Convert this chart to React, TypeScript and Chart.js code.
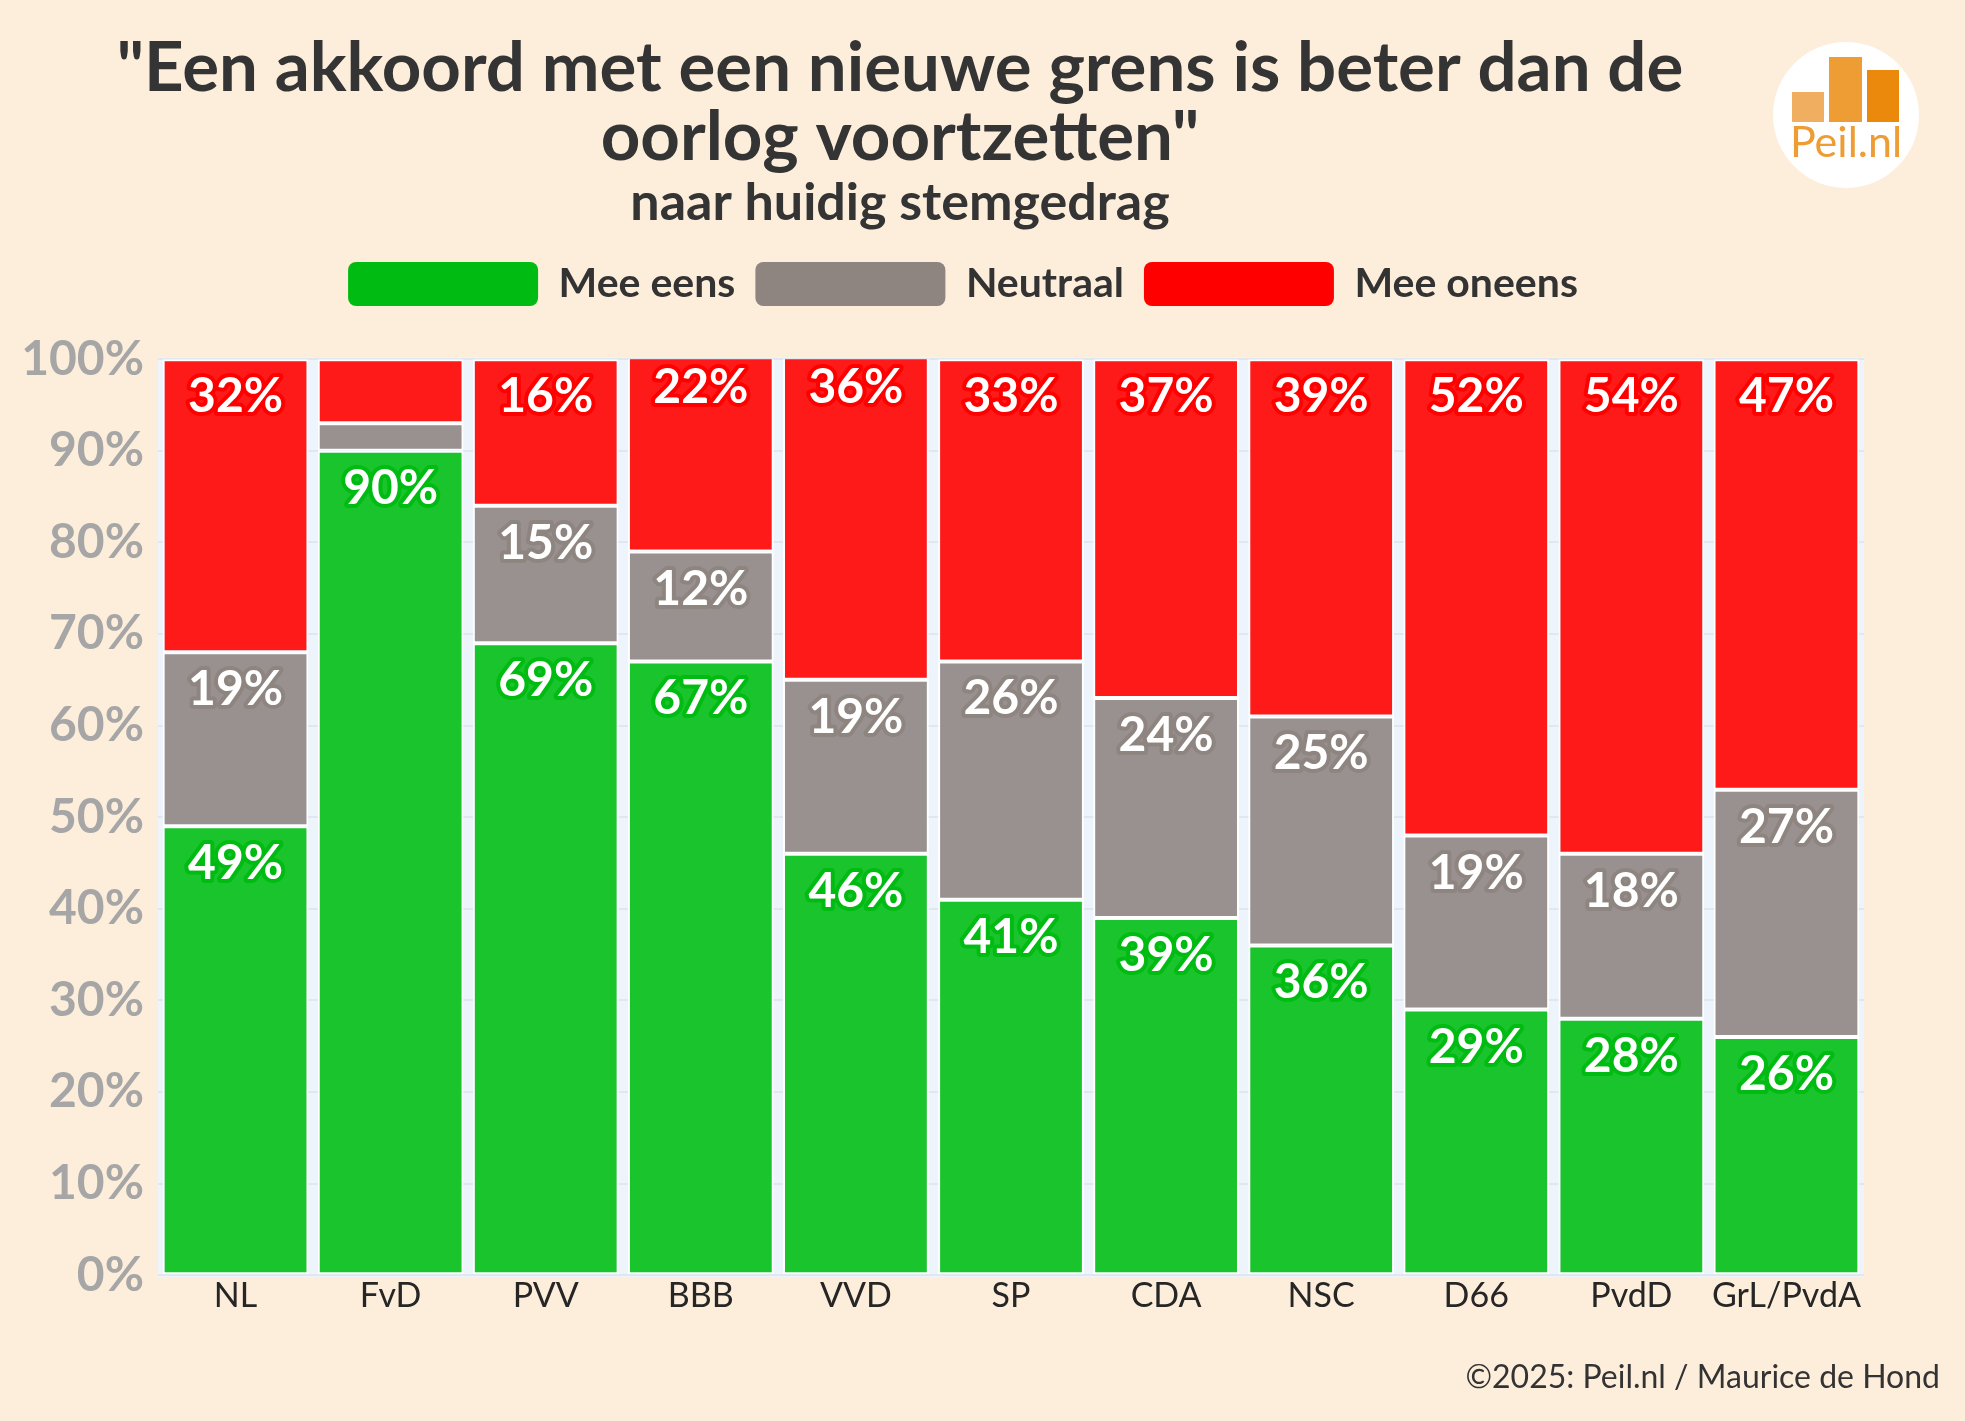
import React, { useEffect, useRef } from 'react';
import { Chart, registerables } from 'chart.js';

Chart.register(...registerables);

const FONT = 'Lato, "Noto Sans", sans-serif';

const TITLE_LINES = ['"Een akkoord met een nieuwe grens is beter dan de', 'oorlog voortzetten"'];
const SUBTITLE = 'naar huidig stemgedrag';
const FOOTER = '©2025: Peil.nl / Maurice de Hond';
const LOGO_TEXT = 'Peil.nl';

const categories = ['NL', 'FvD', 'PVV', 'BBB', 'VVD', 'SP', 'CDA', 'NSC', 'D66', 'PvdD', 'GrL/PvdA'];
const seriesNames = ['Mee eens', 'Neutraal', 'Mee oneens'];
const meeEens = [49, 90, 69, 67, 46, 41, 39, 36, 29, 28, 26];
const neutraal = [19, 3, 15, 12, 19, 26, 24, 25, 19, 18, 27];
const meeOneens = [32, 7, 16, 22, 36, 33, 37, 39, 52, 54, 47];
const seriesValues = [meeEens, neutraal, meeOneens];

const baseColors = ['#00BB11', '#8E8580', '#FF0000'];
const barColors = ['#1AC42C', '#999190', '#FF1A1A'];
const BG = '#FDEEDB';
const PLOT_BG = '#EEF4FB';

const bgPlugin = {
  id: 'bgPlugin',
  beforeDraw(chart: any) {
    const { ctx, chartArea } = chart;
    ctx.save();
    ctx.fillStyle = BG;
    ctx.fillRect(0, 0, chart.width, chart.height);
    ctx.fillStyle = PLOT_BG;
    ctx.fillRect(chartArea.left, chartArea.top - 2, chartArea.right - chartArea.left, chartArea.bottom - chartArea.top + 4);
    ctx.restore();
  },
};

const legendShiftPlugin = {
  id: 'legendShift',
  afterLayout(chart: any) {
    const lg = chart.legend;
    if (lg) {
      lg.left += 27;
      lg.right += 27;
    }
  },
};

const labelsPlugin = {
  id: 'labelsPlugin',
  afterDatasetsDraw(chart: any) {
    const { ctx } = chart;
    ctx.save();
    ctx.font = `bold 48px ${FONT}`;
    ctx.textAlign = 'center';
    ctx.textBaseline = 'alphabetic';
    ctx.lineJoin = 'round';
    chart.data.datasets.forEach((ds: any, i: number) => {
      const meta = chart.getDatasetMeta(i);
      meta.data.forEach((bar: any, j: number) => {
        const v = ds.data[j];
        if (v < 10) return;
        const { x, y } = bar.getProps(['x', 'y'], true);
        const text = v + '%';
        ctx.lineWidth = 8;
        ctx.strokeStyle = baseColors[i];
        ctx.strokeText(text, x, y + 53);
        ctx.fillStyle = '#ffffff';
        ctx.fillText(text, x, y + 53);
      });
    });
    ctx.restore();
  },
};

const decorPlugin = {
  id: 'decorPlugin',
  afterDraw(chart: any) {
    const { ctx } = chart;
    ctx.save();
    ctx.textAlign = 'center';
    ctx.textBaseline = 'alphabetic';
    ctx.fillStyle = '#343434';
    ctx.font = `bold 69px ${FONT}`;
    ctx.fillText(TITLE_LINES[0], 900, 91);
    ctx.fillText(TITLE_LINES[1], 900, 160);
    ctx.font = `bold 52px ${FONT}`;
    ctx.fillText(SUBTITLE, 900, 220);

    ctx.textAlign = 'right';
    ctx.font = `32px ${FONT}`;
    ctx.fillStyle = '#333333';
    ctx.fillText(FOOTER, 1940, 1388);

    // logo
    ctx.fillStyle = '#ffffff';
    ctx.beginPath();
    ctx.arc(1846, 115, 73, 0, Math.PI * 2);
    ctx.fill();
    ctx.fillStyle = '#F0AE60';
    ctx.fillRect(1792, 92, 32, 30);
    ctx.fillStyle = '#EE9C34';
    ctx.fillRect(1829, 57, 33, 65);
    ctx.fillStyle = '#EA890C';
    ctx.fillRect(1867, 70, 32, 52);
    ctx.fillStyle = '#EE9C34';
    ctx.textAlign = 'center';
    ctx.font = `43px ${FONT}`;
    ctx.fillText(LOGO_TEXT, 1846, 157);
    ctx.restore();
  },
};

export default function App() {
  const ref = useRef<HTMLCanvasElement | null>(null);

  useEffect(() => {
    document.body.style.margin = '0';
    document.body.style.background = BG;
    document.body.style.overflow = 'hidden';
    const canvas = ref.current;
    if (!canvas) return;
    const chart = new Chart(canvas, {
      type: 'bar',
      data: {
        labels: categories,
        datasets: seriesNames.map((name, i) => ({
          label: name,
          data: seriesValues[i],
          backgroundColor: barColors[i],
          borderColor: '#ffffff',
          borderWidth: 2,
          borderSkipped: false,
          barPercentage: 0.94,
          categoryPercentage: 1,
        })),
      },
      options: {
        responsive: false,
        animation: false,
        devicePixelRatio: 1,
        layout: { padding: { top: 242, left: 8, right: 101, bottom: 105 } },
        scales: {
          x: {
            stacked: true,
            grid: { display: false, drawTicks: false },
            border: { display: false },
            ticks: { font: { family: FONT, size: 34 }, color: '#262626', padding: 0 },
          },
          y: {
            stacked: true,
            min: 0,
            max: 100,
            ticks: {
              stepSize: 10,
              callback: (v: any) => v + '%',
              font: { family: FONT, size: 48, weight: 'bold' },
              color: '#A6A6A6',
              padding: 14,
            },
            grid: { color: 'rgba(0,0,0,0.05)', lineWidth: 2, drawTicks: false },
            border: { display: false },
            afterFit: (s: any) => {
              s.width = 150;
            },
          },
        },
        plugins: {
          legend: {
            position: 'top',
            labels: {
              boxWidth: 190,
              boxHeight: 44,
              padding: 20,
              useBorderRadius: true,
              borderRadius: 8,
              color: '#333333',
              font: { family: FONT, size: 41, weight: 'bold' },
              generateLabels: (c: any) =>
                c.data.datasets.map((ds: any, i: number) => ({
                  text: ds.label,
                  fillStyle: baseColors[i],
                  strokeStyle: baseColors[i],
                  lineWidth: 0,
                  hidden: false,
                  datasetIndex: i,
                  fontColor: '#333333',
                  borderRadius: 8,
                })),
            },
          },
          subtitle: {
            display: true,
            text: ' ',
            weight: 500,
            position: 'top',
            font: { size: 1 },
            padding: { top: 0, bottom: 42 },
          },
          title: { display: false },
          tooltip: { enabled: false },
        },
      } as any,
      plugins: [bgPlugin, legendShiftPlugin, labelsPlugin, decorPlugin],
    });
    return () => chart.destroy();
  }, []);

  return <canvas ref={ref} width={1965} height={1421} style={{ display: 'block', width: 1965, height: 1421 }} />;
}
